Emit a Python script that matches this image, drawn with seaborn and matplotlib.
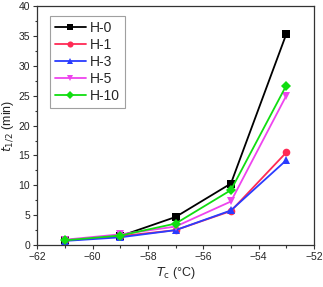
import numpy as np
import pandas as pd
import seaborn as sns
import matplotlib.pyplot as plt
from matplotlib.ticker import MultipleLocator

temps = [-61, -59, -57, -55, -53]
h0 = [0.8, 1.5, 4.7, 10.3, 35.3]
h1 = [0.8, 1.5, 2.5, 5.7, 15.5]
h3 = [0.7, 1.3, 2.5, 5.8, 14.2]
h5 = [0.9, 1.8, 3.1, 7.3, 25.0]
h10 = [0.8, 1.6, 3.6, 9.2, 26.7]
names = ["H-0", "H-1", "H-3", "H-5", "H-10"]

colors = ["#000000", "#ff2a55", "#2a3cff", "#ee44ee", "#11dd11"]
markers = ["s", "o", "^", "v", "D"]

sns.set_theme(style="ticks")
plt.rcParams['font.family'] = ['Arial', 'Liberation Sans', 'DejaVu Sans']

rows = []
for name, vals in zip(names, [h0, h1, h3, h5, h10]):
    for t, v in zip(temps, vals):
        rows.append({"Tc": t, "t": v, "sample": name})
df = pd.DataFrame(rows)

fig = plt.figure(figsize=(3.23, 2.87), dpi=100)
ax = fig.add_axes([0.115, 0.146, 0.857, 0.833])

sns.lineplot(data=df, x="Tc", y="t", hue="sample", style="sample",
             palette=colors, markers=markers, dashes=False, markersize=5.5,
             markeredgewidth=0, linewidth=1.3, ax=ax)

ax.set_xlim(-62, -52)
ax.set_ylim(0, 40)
ax.xaxis.set_major_locator(MultipleLocator(2))
ax.xaxis.set_minor_locator(MultipleLocator(1))
ax.yaxis.set_major_locator(MultipleLocator(5))
ax.yaxis.set_minor_locator(MultipleLocator(2.5))
ax.tick_params(which="major", direction="out", length=3, width=0.8, labelsize=7.5, pad=2, color="#333333")
ax.tick_params(which="minor", direction="out", length=1.8, width=0.8, color="#333333")
for s in ax.spines.values():
    s.set_visible(True)
    s.set_linewidth(0.9)
    s.set_color("#333333")

ax.set_xlabel(r"$T_\mathrm{c}$ (°C)", fontsize=9, labelpad=2)
ax.set_ylabel(r"$t_\mathrm{1/2}$ (min)", fontsize=9, labelpad=2)

leg = ax.legend(loc="upper left", bbox_to_anchor=(0.047, 0.958), borderaxespad=0,
                fontsize=10, frameon=True, fancybox=False, edgecolor="#888888",
                handlelength=2.2, handletextpad=0.3, labelspacing=0.22,
                borderpad=0.35, markerscale=0.8, title=None)
leg.get_frame().set_linewidth(0.8)

fig.savefig("out.png", dpi=100)
